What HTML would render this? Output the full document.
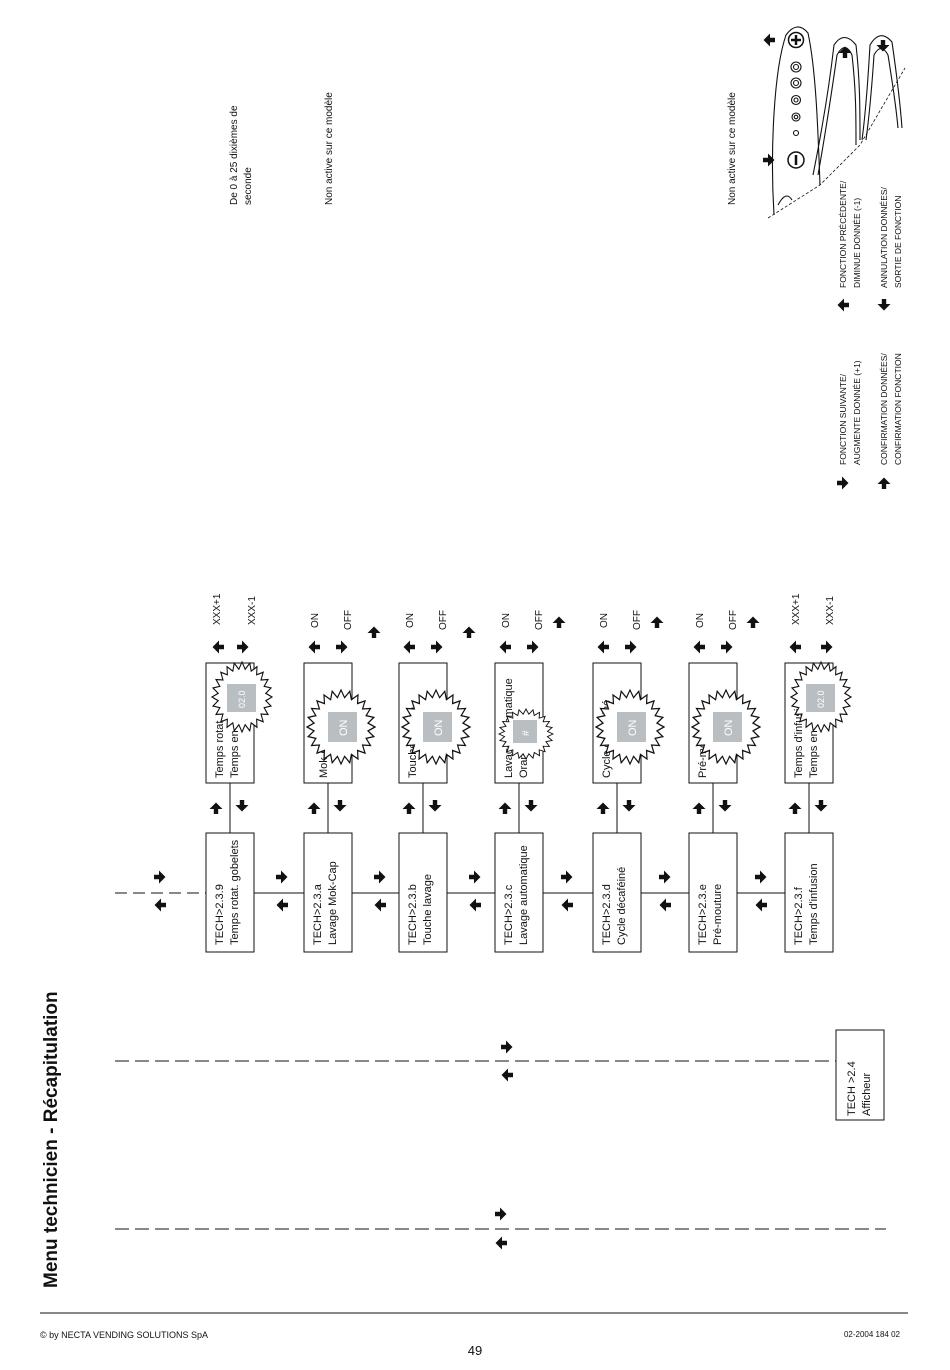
<!DOCTYPE html>
<html><head><meta charset="utf-8"><style>
html,body{margin:0;padding:0;background:#fff}
svg{display:block}
text{font-family:"Liberation Sans",sans-serif;fill:#111}
</style></head><body>
<svg width="950" height="1370" viewBox="0 0 950 1370" xmlns="http://www.w3.org/2000/svg">
<defs>
<path id="ar" d="M-6,-2.2 h5 v-4.3 l6.5,6.5 -6.5,6.5 v-4.3 h-5z" fill="#111"/>
<polygon id="star" fill="#fff" stroke="#111" stroke-width="0.035" points="1,0 .793,.105 .966,.259 .739,.306 .866,.5 .634,.487 .707,.707 .487,.634 .5,.866 .306,.739 .259,.966 .105,.793 0,1 -.105,.793 -.259,.966 -.306,.739 -.5,.866 -.487,.634 -.707,.707 -.634,.487 -.866,.5 -.739,.306 -.966,.259 -.793,.105 -1,0 -.793,-.105 -.966,-.259 -.739,-.306 -.866,-.5 -.634,-.487 -.707,-.707 -.487,-.634 -.5,-.866 -.306,-.739 -.259,-.966 -.105,-.793 0,-1 .105,-.793 .259,-.966 .306,-.739 .5,-.866 .487,-.634 .707,-.707 .634,-.487 .866,-.5 .739,-.306 .966,-.259 .793,-.105"/>
</defs>

<text transform="translate(57,1288) rotate(-90)" font-size="19" font-weight="bold">Menu technicien - Récapitulation</text>

<line x1="40" y1="1313" x2="908" y2="1313" stroke="#111" stroke-width="1"/>
<text x="40" y="1338" font-size="9">© by NECTA VENDING SOLUTIONS SpA</text>
<text x="475" y="1355" font-size="13" text-anchor="middle">49</text>
<text x="900" y="1337" font-size="8" text-anchor="end">02-2004 184 02</text>

<text transform="translate(237,205) rotate(-90)" font-size="10">De 0 à 25 dixièmes de</text>
<text transform="translate(251,205) rotate(-90)" font-size="10">seconde</text>
<text transform="translate(332,205) rotate(-90)" font-size="10">Non active sur ce modèle</text>
<text transform="translate(735,205) rotate(-90)" font-size="10">Non active sur ce modèle</text>

<text transform="translate(846,465) rotate(-90)" font-size="8.5">FONCTION SUIVANTE/</text>
<text transform="translate(860,465) rotate(-90)" font-size="8.5">AUGMENTE DONNÉE (+1)</text>
<text transform="translate(887,465) rotate(-90)" font-size="8.5">CONFIRMATION DONNÉES/</text>
<text transform="translate(901,465) rotate(-90)" font-size="8.5">CONFIRMATION FONCTION</text>
<text transform="translate(846,288) rotate(-90)" font-size="8.5">FONCTION PRÉCÉDENTE/</text>
<text transform="translate(860,288) rotate(-90)" font-size="8.5">DIMINUE DONNÉE (-1)</text>
<text transform="translate(887,288) rotate(-90)" font-size="8.5">ANNULATION DONNÉES/</text>
<text transform="translate(901,288) rotate(-90)" font-size="8.5">SORTIE DE FONCTION</text>
<use href="#ar" transform="translate(843,483)"/>
<use href="#ar" transform="translate(884,483) rotate(-90)"/>
<use href="#ar" transform="translate(843,305) rotate(180)"/>
<use href="#ar" transform="translate(884,305) rotate(90)"/>

<g fill="none" stroke="#111" stroke-width="1.1">
<path d="M774,215 C770,150 774,70 786,35 Q797,20 808,33 C816,70 818,130 820,185"/>
<path d="M778,205 Q786,190 792,200"/>
<path d="M813,175 C822,130 830,80 834,45 Q844,30 856,45 C860,80 860,110 860,140"/>
<path d="M818,175 C826,130 832,90 837,55 Q845,40 852,55 C856,90 856,115 856,145"/>
<path d="M862,140 C866,110 868,80 870,45 Q880,28 892,42 C896,70 900,100 902,128"/>
<path d="M866,140 C870,110 872,85 874,55 Q881,42 888,55 C892,80 896,105 898,128"/>
<path d="M768,218 L820,185 L860,145 L905,68" stroke-dasharray="3,2" stroke-width="0.8"/>
<circle cx="796" cy="40" r="7.5" stroke-width="1.5"/>
<circle cx="796" cy="67" r="5"/><circle cx="796" cy="67" r="2.5"/>
<circle cx="796" cy="83" r="5"/><circle cx="796" cy="83" r="2.5"/>
<circle cx="796" cy="100" r="4.5"/><circle cx="796" cy="100" r="2"/>
<circle cx="796" cy="117" r="4"/><circle cx="796" cy="117" r="1.8"/>
<circle cx="796" cy="133" r="2.5"/>
<circle cx="796" cy="160" r="8" stroke-width="1.5"/>
</g>
<path d="M796,35v10M791,40h10" stroke="#111" stroke-width="2.5"/>
<path d="M796,155v10" stroke="#111" stroke-width="2.5"/>
<use href="#ar" transform="translate(769,40) rotate(180)"/>
<use href="#ar" transform="translate(769,160)"/>
<use href="#ar" transform="translate(845,52) rotate(-90)"/>
<use href="#ar" transform="translate(883,46) rotate(90)"/>

<g stroke="#111" stroke-width="1" fill="none">
<line x1="115" y1="893" x2="206" y2="893" stroke-dasharray="12,6"/>
<line x1="254" y1="893" x2="304" y2="893"/>
<line x1="352" y1="893" x2="399" y2="893"/>
<line x1="447" y1="893" x2="495" y2="893"/>
<line x1="543" y1="893" x2="593" y2="893"/>
<line x1="641" y1="893" x2="689" y2="893"/>
<line x1="737" y1="893" x2="785" y2="893"/>
<line x1="115" y1="1061" x2="836" y2="1061" stroke-dasharray="14,6"/>
<line x1="115" y1="1229" x2="886" y2="1229" stroke-dasharray="14,6"/>
<rect x="836" y="1030" width="48" height="90"/>
</g>
<use href="#ar" transform="translate(160,877)"/><use href="#ar" transform="translate(160,905) rotate(180)"/>
<use href="#ar" transform="translate(507,1047)"/><use href="#ar" transform="translate(507,1075) rotate(180)"/>
<use href="#ar" transform="translate(501,1214)"/><use href="#ar" transform="translate(501,1243) rotate(180)"/>
<text transform="translate(855,1116) rotate(-90)" font-size="11">TECH &gt;2.4</text>
<text transform="translate(870,1116) rotate(-90)" font-size="11">Afficheur</text>

<!-- col 0 -->
<g transform="translate(206,0)">
<rect x="0" y="833" width="48" height="119" fill="none" stroke="#111"/>
<rect x="0" y="663" width="48" height="120" fill="none" stroke="#111"/>
<line x1="24" y1="783" x2="24" y2="833" stroke="#111"/>
<text transform="translate(17,945) rotate(-90)" font-size="11">TECH&gt;2.3.9</text>
<text transform="translate(32,945) rotate(-90)" font-size="11">Temps rotat. gobelets</text>
<text transform="translate(17,778) rotate(-90)" font-size="11">Temps rotat.</text>
<text transform="translate(32,778) rotate(-90)" font-size="11">Temps en</text>
<use href="#star" transform="translate(36,697) scale(30,35)"/>
<rect x="21" y="684" width="29" height="28" fill="#b9bec3"/>
<text transform="translate(39,708) rotate(-90)" font-size="9" style="fill:#fff">02.0</text>
<use href="#ar" transform="translate(10,808) rotate(-90)"/><use href="#ar" transform="translate(36,806) rotate(90)"/>
<use href="#ar" transform="translate(12,647) rotate(180)"/><use href="#ar" transform="translate(37,647)"/>
<text transform="translate(14,625) rotate(-90)" font-size="10">XXX+1</text>
<text transform="translate(49,625) rotate(-90)" font-size="10">XXX-1</text>
<use href="#ar" transform="translate(76,877)"/><use href="#ar" transform="translate(76,905) rotate(180)"/>
</g>
<!-- col 1 -->
<g transform="translate(304,0)">
<rect x="0" y="833" width="48" height="119" fill="none" stroke="#111"/>
<rect x="0" y="663" width="48" height="120" fill="none" stroke="#111"/>
<line x1="24" y1="783" x2="24" y2="833" stroke="#111"/>
<text transform="translate(17,945) rotate(-90)" font-size="11">TECH&gt;2.3.a</text>
<text transform="translate(32,945) rotate(-90)" font-size="11">Lavage Mok-Cap</text>
<text transform="translate(23,778) rotate(-90)" font-size="11">Mok-Cap</text>
<use href="#star" transform="translate(37,727) scale(34,37)"/>
<rect x="24" y="712" width="29" height="30" fill="#b9bec3"/>
<text transform="translate(43,736) rotate(-90)" font-size="11" style="fill:#fff">ON</text>
<use href="#ar" transform="translate(10,808) rotate(-90)"/><use href="#ar" transform="translate(36,806) rotate(90)"/>
<use href="#ar" transform="translate(10,647) rotate(180)"/><use href="#ar" transform="translate(38,647)"/>
<text transform="translate(14,628) rotate(-90)" font-size="10">ON</text>
<text transform="translate(47,630) rotate(-90)" font-size="10">OFF</text>
<use href="#ar" transform="translate(70,632) rotate(-90)"/>
<use href="#ar" transform="translate(76,877)"/><use href="#ar" transform="translate(76,905) rotate(180)"/>
</g>
<!-- col 2 -->
<g transform="translate(399,0)">
<rect x="0" y="833" width="48" height="119" fill="none" stroke="#111"/>
<rect x="0" y="663" width="48" height="120" fill="none" stroke="#111"/>
<line x1="24" y1="783" x2="24" y2="833" stroke="#111"/>
<text transform="translate(17,945) rotate(-90)" font-size="11">TECH&gt;2.3.b</text>
<text transform="translate(32,945) rotate(-90)" font-size="11">Touche lavage</text>
<text transform="translate(17,778) rotate(-90)" font-size="11">Touche lavage</text>
<use href="#star" transform="translate(37,727) scale(34,37)"/>
<rect x="24" y="712" width="29" height="30" fill="#b9bec3"/>
<text transform="translate(43,736) rotate(-90)" font-size="11" style="fill:#fff">ON</text>
<use href="#ar" transform="translate(10,808) rotate(-90)"/><use href="#ar" transform="translate(36,806) rotate(90)"/>
<use href="#ar" transform="translate(10,647) rotate(180)"/><use href="#ar" transform="translate(38,647)"/>
<text transform="translate(14,628) rotate(-90)" font-size="10">ON</text>
<text transform="translate(47,630) rotate(-90)" font-size="10">OFF</text>
<use href="#ar" transform="translate(70,632) rotate(-90)"/>
<use href="#ar" transform="translate(76,877)"/><use href="#ar" transform="translate(76,905) rotate(180)"/>
</g>
<!-- col 3 -->
<g transform="translate(495,0)">
<rect x="0" y="833" width="48" height="119" fill="none" stroke="#111"/>
<rect x="0" y="663" width="48" height="120" fill="none" stroke="#111"/>
<line x1="24" y1="783" x2="24" y2="833" stroke="#111"/>
<text transform="translate(17,945) rotate(-90)" font-size="11">TECH&gt;2.3.c</text>
<text transform="translate(32,945) rotate(-90)" font-size="11">Lavage automatique</text>
<text transform="translate(17,778) rotate(-90)" font-size="11">Lavage automatique</text>
<text transform="translate(32,778) rotate(-90)" font-size="11">Orario       ##</text>
<use href="#star" transform="translate(31,734) scale(27,25)"/>
<rect x="18" y="720" width="24" height="23" fill="#b9bec3"/>
<text transform="translate(34,736) rotate(-90)" font-size="10" style="fill:#fff">#</text>
<use href="#ar" transform="translate(10,808) rotate(-90)"/><use href="#ar" transform="translate(36,806) rotate(90)"/>
<use href="#ar" transform="translate(10,647) rotate(180)"/><use href="#ar" transform="translate(38,647)"/>
<text transform="translate(14,628) rotate(-90)" font-size="10">ON</text>
<text transform="translate(47,630) rotate(-90)" font-size="10">OFF</text>
<use href="#ar" transform="translate(64,622) rotate(-90)"/>
<use href="#ar" transform="translate(72,877)"/><use href="#ar" transform="translate(72,905) rotate(180)"/>
</g>
<!-- col 4 -->
<g transform="translate(593,0)">
<rect x="0" y="833" width="48" height="119" fill="none" stroke="#111"/>
<rect x="0" y="663" width="48" height="120" fill="none" stroke="#111"/>
<line x1="24" y1="783" x2="24" y2="833" stroke="#111"/>
<text transform="translate(17,945) rotate(-90)" font-size="11">TECH&gt;2.3.d</text>
<text transform="translate(32,945) rotate(-90)" font-size="11">Cycle décaféiné</text>
<text transform="translate(17,778) rotate(-90)" font-size="11">Cycle décaféiné</text>
<use href="#star" transform="translate(37,727) scale(34,37)"/>
<rect x="24" y="712" width="29" height="30" fill="#b9bec3"/>
<text transform="translate(43,736) rotate(-90)" font-size="11" style="fill:#fff">ON</text>
<use href="#ar" transform="translate(10,808) rotate(-90)"/><use href="#ar" transform="translate(36,806) rotate(90)"/>
<use href="#ar" transform="translate(10,647) rotate(180)"/><use href="#ar" transform="translate(38,647)"/>
<text transform="translate(14,628) rotate(-90)" font-size="10">ON</text>
<text transform="translate(47,630) rotate(-90)" font-size="10">OFF</text>
<use href="#ar" transform="translate(64,622) rotate(-90)"/>
<use href="#ar" transform="translate(72,877)"/><use href="#ar" transform="translate(72,905) rotate(180)"/>
</g>
<!-- col 5 -->
<g transform="translate(689,0)">
<rect x="0" y="833" width="48" height="119" fill="none" stroke="#111"/>
<rect x="0" y="663" width="48" height="120" fill="none" stroke="#111"/>
<line x1="24" y1="783" x2="24" y2="833" stroke="#111"/>
<text transform="translate(17,945) rotate(-90)" font-size="11">TECH&gt;2.3.e</text>
<text transform="translate(32,945) rotate(-90)" font-size="11">Pré-mouture</text>
<text transform="translate(17,778) rotate(-90)" font-size="11">Pré-mouture</text>
<use href="#star" transform="translate(37,727) scale(34,37)"/>
<rect x="24" y="712" width="29" height="30" fill="#b9bec3"/>
<text transform="translate(43,736) rotate(-90)" font-size="11" style="fill:#fff">ON</text>
<use href="#ar" transform="translate(10,808) rotate(-90)"/><use href="#ar" transform="translate(36,806) rotate(90)"/>
<use href="#ar" transform="translate(10,647) rotate(180)"/><use href="#ar" transform="translate(38,647)"/>
<text transform="translate(14,628) rotate(-90)" font-size="10">ON</text>
<text transform="translate(47,630) rotate(-90)" font-size="10">OFF</text>
<use href="#ar" transform="translate(64,622) rotate(-90)"/>
<use href="#ar" transform="translate(72,877)"/><use href="#ar" transform="translate(72,905) rotate(180)"/>
</g>
<!-- col 6 -->
<g transform="translate(785,0)">
<rect x="0" y="833" width="48" height="119" fill="none" stroke="#111"/>
<rect x="0" y="663" width="48" height="120" fill="none" stroke="#111"/>
<line x1="24" y1="783" x2="24" y2="833" stroke="#111"/>
<text transform="translate(17,945) rotate(-90)" font-size="11">TECH&gt;2.3.f</text>
<text transform="translate(32,945) rotate(-90)" font-size="11">Temps d'infusion</text>
<text transform="translate(17,778) rotate(-90)" font-size="11">Temps d'infusion</text>
<text transform="translate(32,778) rotate(-90)" font-size="11">Temps en</text>
<use href="#star" transform="translate(36,697) scale(30,35)"/>
<rect x="21" y="684" width="29" height="28" fill="#b9bec3"/>
<text transform="translate(39,708) rotate(-90)" font-size="9" style="fill:#fff">02.0</text>
<use href="#ar" transform="translate(10,808) rotate(-90)"/><use href="#ar" transform="translate(36,806) rotate(90)"/>
<use href="#ar" transform="translate(10,647) rotate(180)"/><use href="#ar" transform="translate(42,647)"/>
<text transform="translate(14,625) rotate(-90)" font-size="10">XXX+1</text>
<text transform="translate(48,625) rotate(-90)" font-size="10">XXX-1</text>
</g>
</svg>
</body></html>
